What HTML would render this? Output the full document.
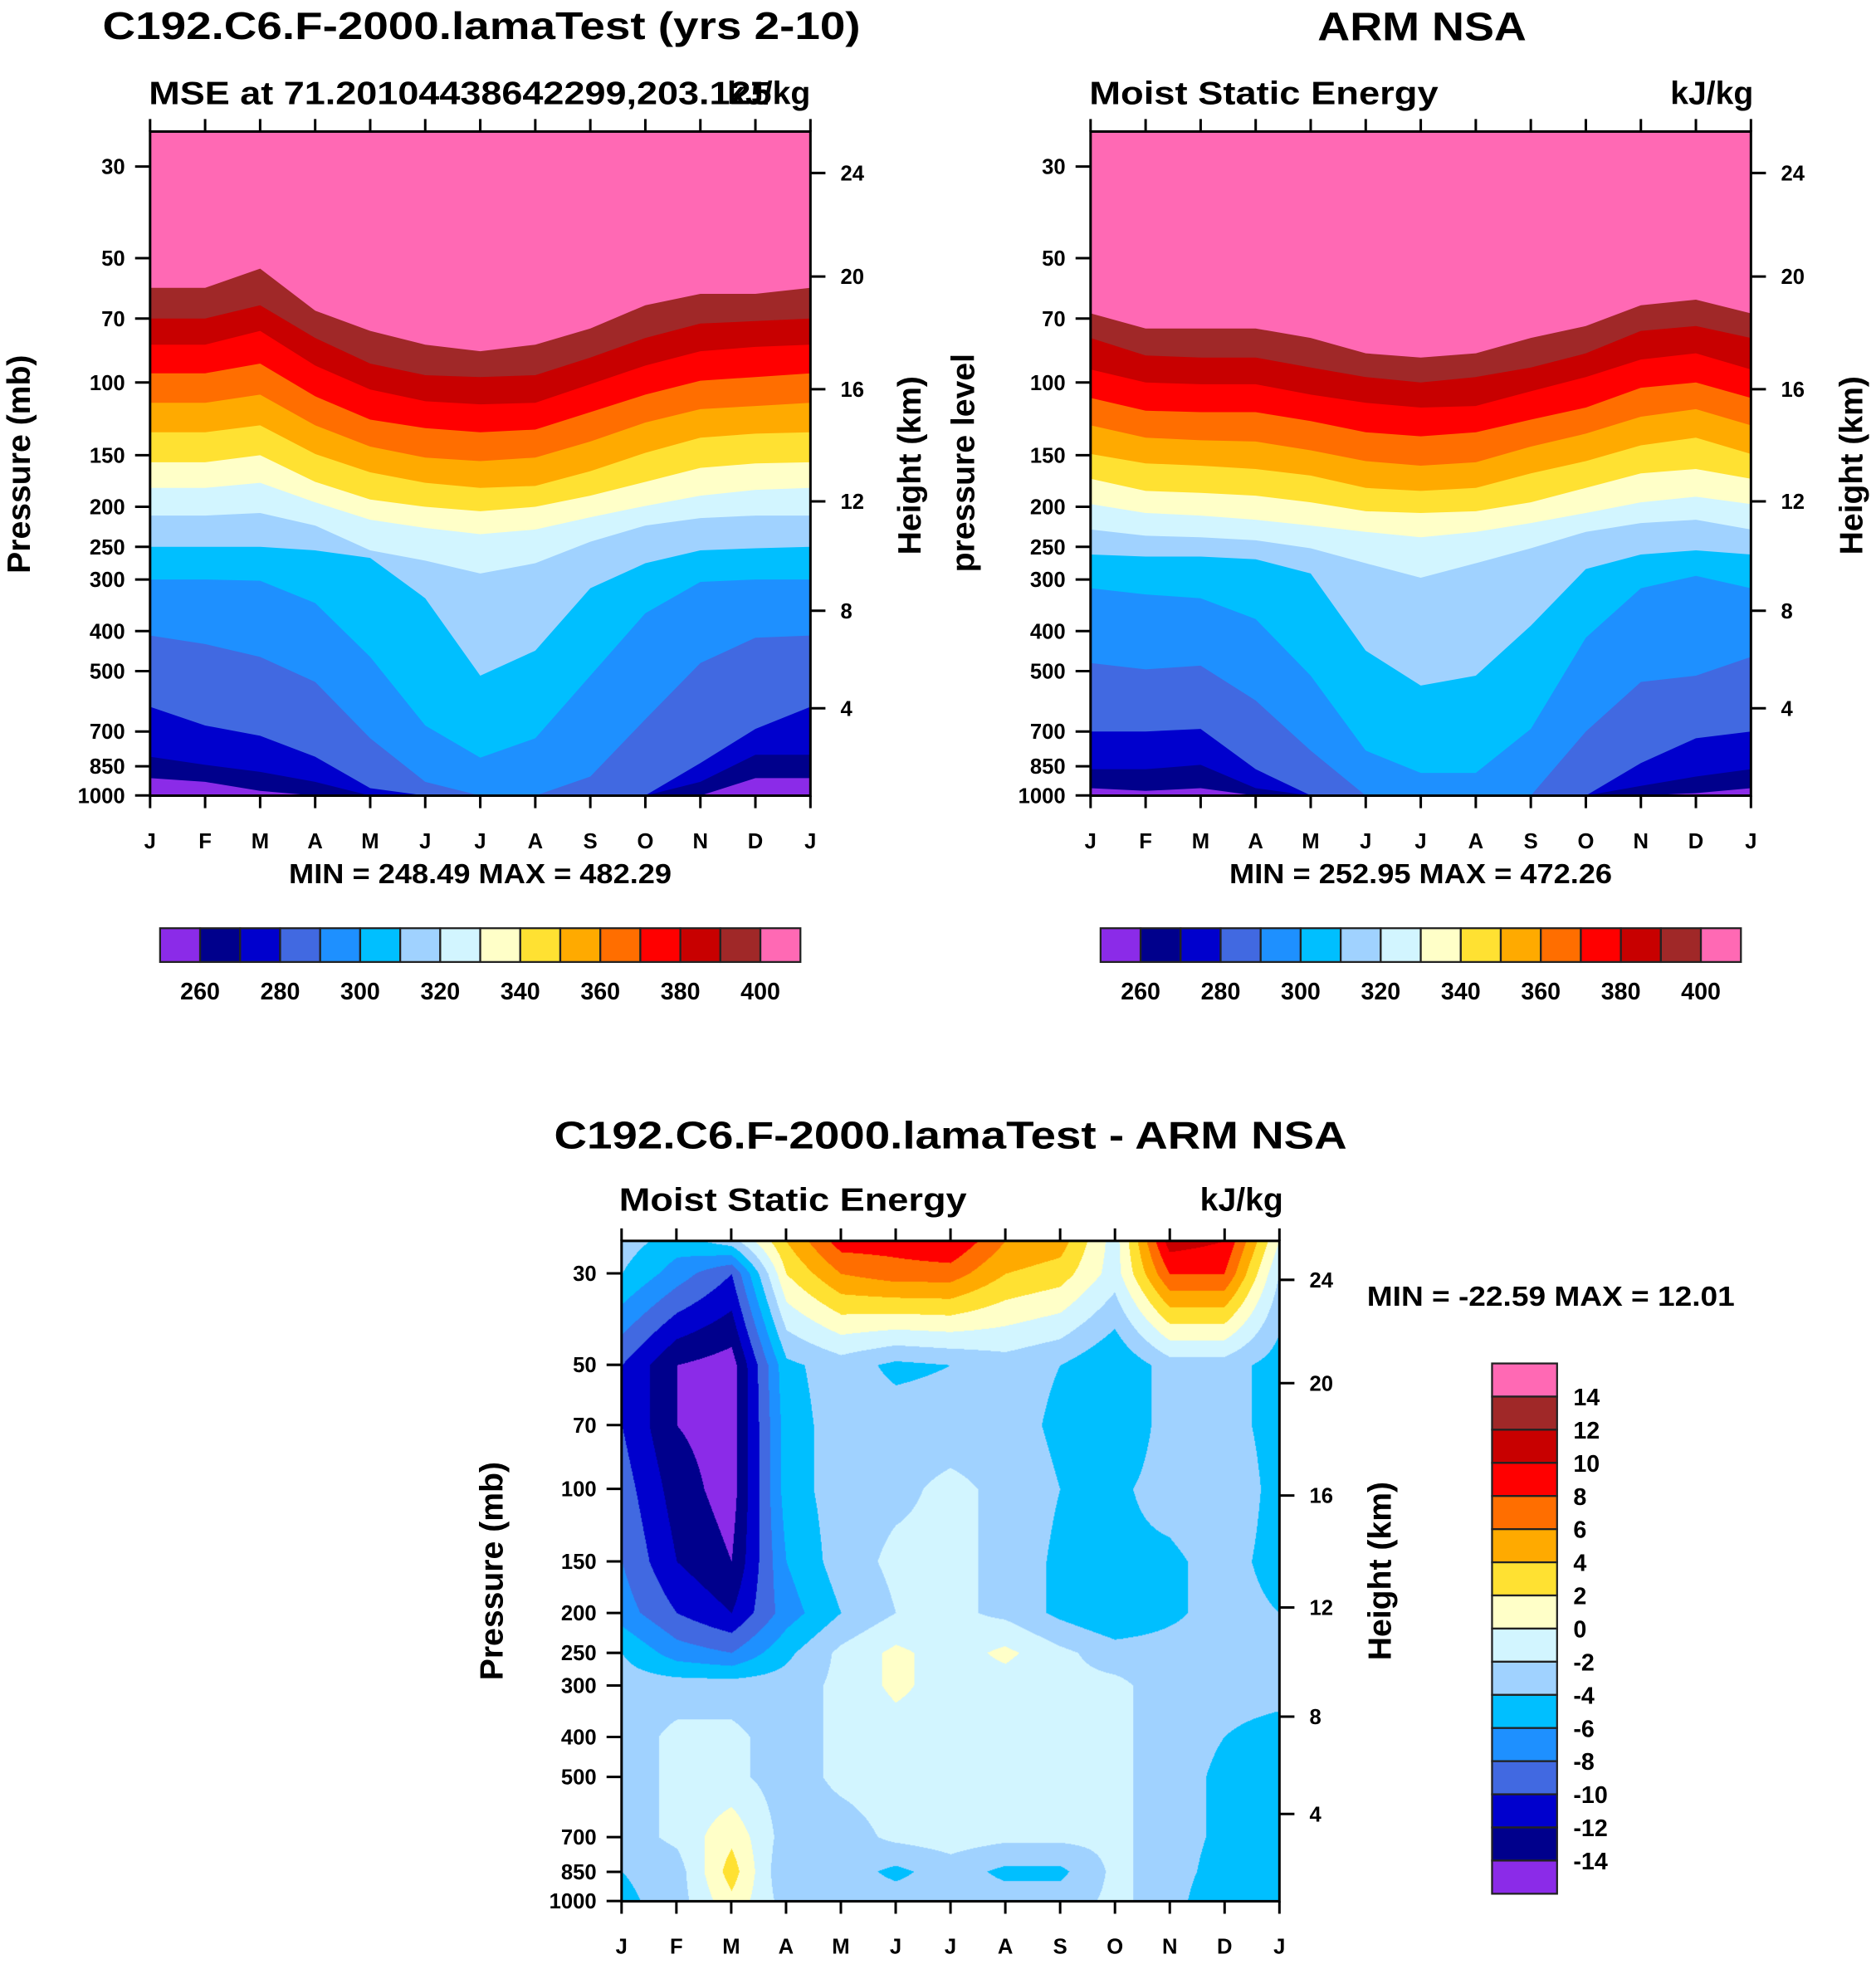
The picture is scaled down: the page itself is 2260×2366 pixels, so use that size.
<!DOCTYPE html>
<html><head><meta charset="utf-8">
<style>
body{margin:0;background:#fff;width:2260px;height:2366px;position:relative;overflow:hidden}
#cv{position:absolute;left:748.8px;top:1494.6px;width:792.5px;height:795.5px}
#s{position:absolute;left:0;top:0}
text{font-family:"Liberation Sans",Arial,sans-serif;font-weight:bold;fill:#000}
</style></head><body>
<canvas id="cv" width="793" height="796"></canvas>
<svg id="s" width="2260" height="2366" viewBox="0 0 1500 1570" xmlns="http://www.w3.org/2000/svg"></svg>
<script>
// ===== data =====
const months = ["J","F","M","A","M","J","J","A","S","O","N","D","J"];
const pTicks = [30,50,70,100,150,200,250,300,400,500,700,850,1000];
const hTicks = [24,20,16,12,8,4];
const hTickP = [31.1,55.4,103.8,194,357,615];
const mseLevels = [260,270,280,290,300,310,320,330,340,350,360,370,380,390,400];
const mseBarLabels = [260,280,300,320,340,360,380,400];
const colors = ["#8B2BE8","#00008C","#0000CD","#4169E1","#1E90FF","#00BFFF","#A0D2FF","#D2F5FF","#FFFFC8","#FFE132","#FFAA00","#FF6E00","#FF0000","#C80000","#A02828","#FF69B4"];
// pressure (mb) at which MSE crosses each level, per month (model)
const modelIso = [
 [908,927,975,1050,1100,1100,1100,1100,1100,1100,1100,908,908],
 [806,843,877,927,1100,1100,1100,1100,1100,1100,927,797,797],
 [610,677,717,806,960,1100,1100,1100,1100,1000,835,690,610],
 [410,430,462,531,727,927,1100,1100,900,654,478,415,410],
 [300,300,302,342,462,677,810,727,513,362,304,300,300],
 [250,250,250,255,266,333,513,446,315,274,255,252,250],
 [210,210,207,222,255,270,290,274,243,222,213,210,210],
 [180,180,175,195,215,225,233,227,212,199,188,182,180],
 [156,156,150,174,192,200,205,200,188,174,161,157,156],
 [132,132,127,149,165,175,180,178,164,148,136,133,132],
 [112,112,107,127,143,152,155,152,139,125,116,114,112],
 [95,95,90,108,123,129,132,130,118,107,99,97,95],
 [81,81,75,91,104,111,113,112,101,91,84,82,81],
 [70,70,65,78,90,96,97,96,87,78,72,71,70],
 [59,59,53,67,75,81,84,81,74,65,61,61,59]
];
// observations (ARM NSA)
const obsIso = [
 [960,975,960,1100,1100,1100,1100,1100,1100,1100,1100,987,960],
 [864,864,843,960,1100,1100,1100,1100,1100,1100,948,900,864],
 [700,700,690,864,1000,1100,1100,1100,1100,1100,835,727,700],
 [478,495,485,589,779,1100,1100,1100,1100,700,531,513,462],
 [315,326,333,374,513,779,882,882,690,415,315,294,315],
 [261,264,264,268,290,446,542,513,388,283,261,255,261],
 [227,235,237,241,252,274,297,274,252,230,219,215,227],
 [197,207,210,215,222,230,237,230,219,207,195,189,197],
 [171,183,185,188,195,205,207,205,195,180,166,162,171],
 [149,157,159,162,168,180,183,180,166,155,142,136,149],
 [127,136,138,139,146,155,159,156,143,133,121,116,127],
 [109,117,118,118,124,132,135,132,123,115,103,100,109],
 [93,100,101,101,107,112,115,114,105,97,88,85,93],
 [78,86,87,87,92,97,100,97,92,85,75,73,78],
 [68,74,74,74,78,85,87,85,78,73,65,63,68]
];
// difference field (kJ/kg): rows = pressure levels, cols = months
const diffP = [25,30,50,70,100,150,200,250,300,400,500,700,850,1000];
const diffVals = [
 [-3,-5,-3,4,9,9,10,6,5,-1,11,10,0],
 [-4,-7,-10,2,6,7,7,4,3,-1,8,8,-2],
 [-10,-14,-15,-4.5,-3,-4.5,-4,-3,-4,-6,-3,-3,-5],
 [-10,-14,-15,-5,-3,-3,-3,-3,-4.5,-6,-3,-3,-5],
 [-9,-13,-15,-5,-3,-2.5,-1.5,-2.5,-4,-4.5,-3,-2,-5],
 [-8,-12,-14,-6,-3,-1.5,-1.5,-2.5,-4.5,-4.5,-4.5,-3,-5],
 [-7,-10,-12,-7,-4,-2,-1.5,-2.5,-4.5,-6,-4.5,-3,-4],
 [-4,-7,-8,-4.5,-1.5,0.5,-1,0.5,-1.5,-3,-3,-3,-3],
 [-3,-3,-3,-3,-1.5,0.5,-1,-1,-1.5,-1.5,-3,-3,-3],
 [-3,-1.5,-1.5,-3,-1.5,-1,-1,-1,-1.5,-1.5,-3,-4,-5],
 [-3,-1.5,-1.5,-3,-1.5,-1,-1,-1,-1.5,-1.5,-3,-4.5,-5],
 [-3,-1.5,1.5,-3,-3,-1.5,-1,-1.5,-1.5,-1.5,-3,-4.5,-5],
 [-4,-3,3,-4,-3,-4.5,-3,-4.5,-4.5,-1.5,-3,-5,-6],
 [-4.5,-3,1.5,-3,-3,-3,-3,-3,-3,-1.5,-3,-6,-5]
];
const diffLevels = [-14,-12,-10,-8,-6,-4,-2,0,2,4,6,8,10,12,14];
const diffBarLabels = [14,12,10,8,6,4,2,0,-2,-4,-6,-8,-10,-12,-14];

// ===== helpers =====
const NS="http://www.w3.org/2000/svg";
const svg=document.getElementById('s');
function el(tag,attrs,parent){const e=document.createElementNS(NS,tag);for(const k in attrs)e.setAttribute(k,attrs[k]);(parent||svg).appendChild(e);return e;}
function txt(s,x,y,size,anchor,name,extra){const t=el('text',Object.assign({x:x,y:y,'font-size':size,'text-anchor':anchor||'start'},extra||{}));t.textContent=s;


return t;}
function makeY(y30,k){return p=>y30+k*Math.log(p/30);}

function axes(x0,top,w,bottom,yP){
 const dx=w/12;
 el('rect',{x:x0,y:top,width:w,height:bottom-top,fill:'none',stroke:'#000','stroke-width':2});
 for(let i=0;i<13;i++){
  const x=x0+i*dx;
  el('line',{x1:x,y1:top,x2:x,y2:top-10,stroke:'#000','stroke-width':2});
  el('line',{x1:x,y1:bottom,x2:x,y2:bottom+10,stroke:'#000','stroke-width':2});
  txt(months[i],x,bottom+42,17,'middle','month-label');
 }
 pTicks.forEach(p=>{const y=yP(p);
  el('line',{x1:x0,y1:y,x2:x0-12,y2:y,stroke:'#000','stroke-width':2});
  txt(String(p),x0-20,y+6,17,'end','pressure-tick-label');});
 hTicks.forEach((h,i)=>{const y=yP(hTickP[i]);
  el('line',{x1:x0+w,y1:y,x2:x0+w+12,y2:y,stroke:'#000','stroke-width':2});
  txt(String(h),x0+w+24,y+6,17,'start','height-tick-label');});
}

function isoPanel(x0,iso,name){
 const top=105,bottom=636,w=528,dx=w/12,yP=makeY(133,143.4);
 const g=el('g',{});
 
 
 el('rect',{x:x0,y:top,width:w,height:bottom-top,fill:colors[0]},g);
 iso.forEach((row,k)=>{
  let pts=[[x0,top]];
  row.forEach((p,i)=>pts.push([x0+i*dx,Math.min(bottom,Math.max(top,yP(p)))]));
  pts.push([x0+w,top]);
  const poly=el('polygon',{points:pts.map(a=>a.join(',')).join(' '),fill:colors[k+1]},g);
  
  
 });
 axes(x0,top,w,bottom,yP);
}

function hbar(x0,name){
 const g=el('g',{});
 
 
 for(let i=0;i<16;i++){
  const r=el('rect',{x:x0+i*32,y:742,width:32,height:27,fill:colors[i],stroke:'#222','stroke-width':1.5},g);
  
  
 }
 mseBarLabels.forEach(v=>{const i=mseLevels.indexOf(v)+1;txt(String(v),x0+i*32,799,19,'middle','colorbar-label');});
}

function vtitle(s,cx,cy,name){return txt(s,0,0,26,'middle',name,{transform:'translate('+(cx+9)+','+cy+') rotate(-90)'});}

// ===== top-left =====
txt("C192.C6.F-2000.lamaTest (yrs 2-10)",385,31,31,'middle','model-title',{textLength:606,lengthAdjust:'spacingAndGlyphs'});
txt("MSE at 71.20104438642299,203.125",119,83,26,'start','model-subtitle',{textLength:498,lengthAdjust:'spacingAndGlyphs'});
txt("kJ/kg",648,83,26,'end','units-label');
isoPanel(120,modelIso,'model-contour-plot');
vtitle("Pressure (mb)",15,371,'pressure-axis-title');
vtitle("Height (km)",727,372,'height-axis-title');
txt("MIN = 248.49 MAX = 482.29",384,706,22,'middle','min-max-label',{textLength:306,lengthAdjust:'spacingAndGlyphs'});
hbar(128,'model-colorbar');

// ===== top-right =====
txt("ARM NSA",1137,32,32,'middle','obs-title',{textLength:167,lengthAdjust:'spacingAndGlyphs'});
txt("Moist Static Energy",871,83,26,'start','obs-subtitle',{textLength:279,lengthAdjust:'spacingAndGlyphs'});
txt("kJ/kg",1402,83,26,'end','units-label');
isoPanel(872,obsIso,'obs-contour-plot');
vtitle("pressure level",770,370,'pressure-axis-title');
vtitle("Height (km)",1480,372,'height-axis-title');
txt("MIN = 252.95 MAX = 472.26",1136,706,22,'middle','min-max-label',{textLength:306,lengthAdjust:'spacingAndGlyphs'});
hbar(880,'obs-colorbar');

// ===== bottom =====
const bx0=497,btop=992,bbot=1520,bw=526;
const yPb=makeY(1018,143.1);
txt("C192.C6.F-2000.lamaTest - ARM NSA",760,918,31,'middle','difference-title',{textLength:634,lengthAdjust:'spacingAndGlyphs'});
txt("Moist Static Energy",495,968,26,'start','difference-subtitle',{textLength:278,lengthAdjust:'spacingAndGlyphs'});
txt("kJ/kg",1026,968,26,'end','units-label');
axes(bx0,btop,bw,bbot,yPb);
vtitle("Pressure (mb)",393,1256,'pressure-axis-title');
vtitle("Height (km)",1103,1256,'height-axis-title');
txt("MIN = -22.59 MAX =  12.01",1093,1044,22,'start','min-max-label',{textLength:294,lengthAdjust:'spacingAndGlyphs'});
(function(){
 const g=el('g',{});
 
 
 const h=26.5;
 for(let i=0;i<16;i++){
  const r=el('rect',{x:1193,y:1090+i*h,width:52,height:h,fill:colors[15-i],stroke:'#222','stroke-width':1.5},g);
  
  
 }
 diffBarLabels.forEach((v,i)=>txt(String(v),1258,1090+(i+1)*h+7,19,'start','colorbar-label'));
})();

// canvas contour fill for the difference field
(function(){
 const cv=document.getElementById('cv'),ctx=cv.getContext('2d');
 const W=cv.width,H=cv.height,sc=1.5067;
 const img=ctx.createImageData(W,H);
 const rgb=colors.map(c=>[parseInt(c.substr(1,2),16),parseInt(c.substr(3,2),16),parseInt(c.substr(5,2),16)]);
 const lnP=diffP.map(Math.log);
 for(let py=0;py<H;py++){
  const y=btop+py/sc;
  const lp=Math.log(30)+(y-1018)/143.1;
  let r=0;while(r<lnP.length-2&&lp>lnP[r+1])r++;
  let fy=(lp-lnP[r])/(lnP[r+1]-lnP[r]);fy=Math.max(0,Math.min(1,fy));
  for(let px=0;px<W;px++){
   const m=Math.max(0,Math.min(12,(px/sc)/(bw/12)));
   let c=Math.min(11,Math.floor(m));const fx=m-c;
   const a=diffVals[r][c]*(1-fx)+diffVals[r][c+1]*fx;
   const b=diffVals[r+1][c]*(1-fx)+diffVals[r+1][c+1]*fx;
   const v=a*(1-fy)+b*fy;
   let k=0;while(k<diffLevels.length&&v>=diffLevels[k])k++;
   const o=(py*W+px)*4,col=rgb[k];
   img.data[o]=col[0];img.data[o+1]=col[1];img.data[o+2]=col[2];img.data[o+3]=255;
  }
 }
 ctx.putImageData(img,0,0);
})();
</script>
</body></html>
